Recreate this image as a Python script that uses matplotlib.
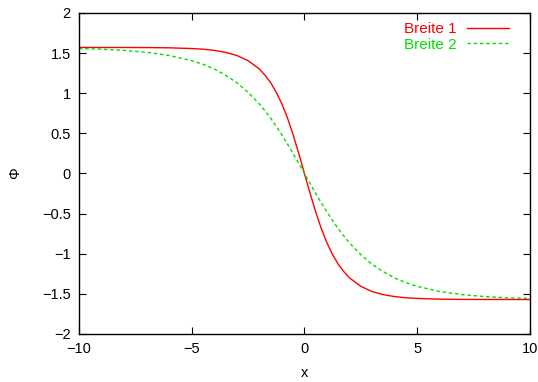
import matplotlib.pyplot as plt

plt.rcParams['font.family'] = ['Liberation Sans', 'DejaVu Sans']
plt.rcParams['font.size'] = 10.5

x = [-10, -9, -8, -7, -6, -5, -4.5, -4, -3.5, -3, -2.5, -2, -1.75, -1.5, -1.25, -1, -0.75, -0.5, -0.25,
     0, 0.25, 0.5, 0.75, 1, 1.25, 1.5, 1.75, 2, 2.5, 3, 3.5, 4, 4.5, 5, 6, 7, 8, 9, 10]

breite1 = [1.571, 1.570, 1.570, 1.569, 1.566, 1.557, 1.549, 1.534, 1.510, 1.471, 1.406, 1.302, 1.224,
           1.132, 1.012, 0.866, 0.689, 0.480, 0.247,
           0.0, -0.247, -0.480, -0.689, -0.866, -1.012, -1.132, -1.224, -1.302, -1.406, -1.471, -1.510,
           -1.534, -1.549, -1.557, -1.566, -1.569, -1.570, -1.570, -1.571]

breite2 = [1.557, 1.549, 1.534, 1.510, 1.471, 1.406, 1.361, 1.302, 1.224, 1.132, 1.012, 0.866, 0.781,
           0.689, 0.588, 0.480, 0.366, 0.247, 0.125,
           0.0, -0.125, -0.247, -0.366, -0.480, -0.588, -0.689, -0.781, -0.866, -1.012, -1.132, -1.224,
           -1.302, -1.361, -1.406, -1.471, -1.510, -1.534, -1.549, -1.557]

fig = plt.figure(figsize=(5.38, 3.82), dpi=100)
ax = fig.add_axes([0.1468, 0.1257, 0.8382, 0.8403])

ax.plot(x, breite1, color='#ff0000', lw=1.0, label='Breite 1')
ax.plot(x, breite2, color='#00e000', lw=1.0, linestyle=(0, (2.5, 2)), label='Breite 2')

ax.set_xlim(-10, 10)
ax.set_ylim(-2, 2)
ax.set_xticks([-10, -5, 0, 5, 10])
ax.set_yticks([-2, -1.5, -1, -0.5, 0, 0.5, 1, 1.5, 2])
ax.set_yticklabels(['\u22122', '\u22121.5', '\u22121', '\u22120.5', '0', '0.5', '1', '1.5', '2'])
ax.set_xticklabels(['\u221210', '\u22125', '0', '5', '10'])
ax.tick_params(direction='in', top=True, right=True, length=5, width=0.8, pad=6)
for s in ax.spines.values():
    s.set_linewidth(1.0)

ax.set_xlabel('x', labelpad=7)
ax.set_ylabel('\u03a6', labelpad=14)

ax.legend(loc='upper right', bbox_to_anchor=(1 - 12 / 451, 1.0), frameon=False, markerfirst=False,
          labelcolor='linecolor', handlelength=2.75, handletextpad=0.65, borderaxespad=0.2,
          labelspacing=0.1, fontsize=11)

plt.savefig('out.png', dpi=100)
